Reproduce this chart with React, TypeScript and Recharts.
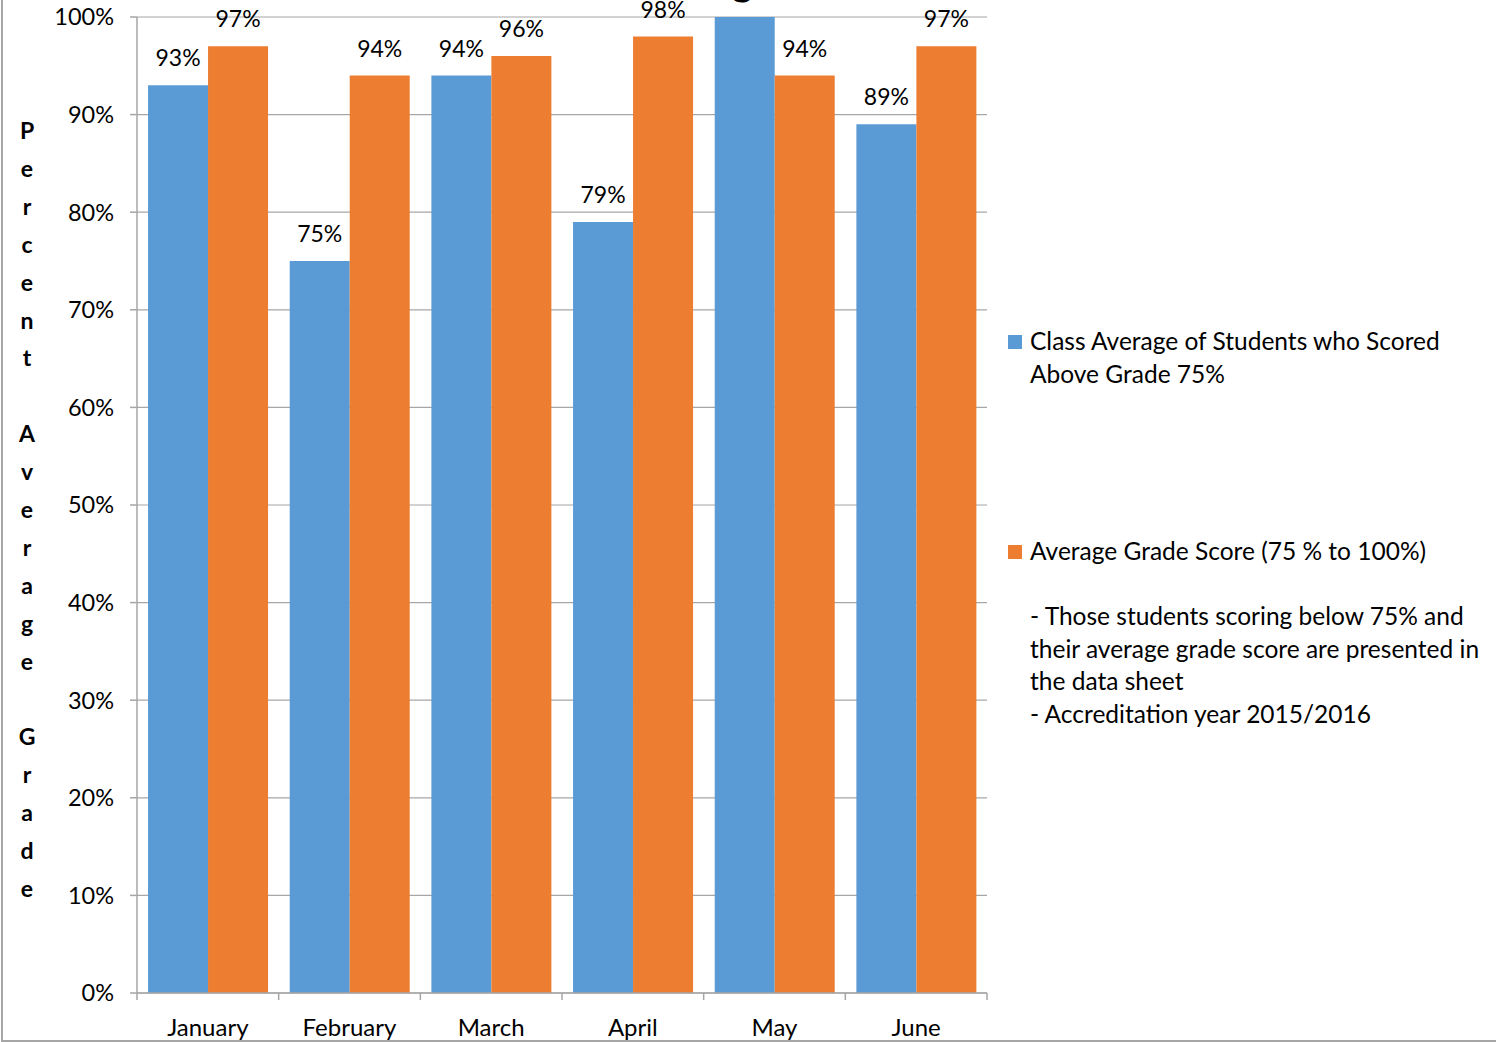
import React from "react";
import { BarChart, Bar, XAxis, YAxis, CartesianGrid, LabelList, Label } from "recharts";

const months = ["January", "February", "March", "April", "May", "June"];
const classAverage = [93, 75, 94, 79, 100, 89];
const gradeScore = [97, 94, 96, 98, 94, 97];
const yTicks = [0, 10, 20, 30, 40, 50, 60, 70, 80, 90, 100];
const seriesLegend1 = ["Class Average of Students who Scored", "Above Grade 75%"];
const seriesLegend2 = ["Average Grade Score (75 % to 100%)"];
const noteLines = [
  "- Those students scoring below 75% and",
  "their average grade score are presented in",
  "the data sheet",
  "- Accreditation year 2015/2016",
];
const yTitle = "Percent Average Grade";
const chartTitle = "Average Grade";

const BLUE = "#5B9BD5";
const ORANGE = "#ED7D31";
const GRAY = "#a6a6a6";
const FONT = "Lato, 'Open Sans', sans-serif";

const data = months.map((m, i) => ({ month: m, classAvg: classAverage[i], grade: gradeScore[i] }));

const XTick = (props: any) => {
  const { x, y, payload, index, visibleTicksCount } = props;
  const off = payload.offset || 0;
  return (
    <g>
      <line x1={x - off} x2={x - off} y1={y - 8} y2={y - 1} stroke={GRAY} strokeWidth={1.5} />
      {index === visibleTicksCount - 1 && (
        <line x1={x + off} x2={x + off} y1={y - 8} y2={y - 1} stroke={GRAY} strokeWidth={1.5} />
      )}
      <text x={x} y={y + 35} textAnchor="middle" fontFamily={FONT} fontSize={24} fill="#000">
        {payload.value}
      </text>
    </g>
  );
};

const YTitle = (props: any) => {
  const vb = props.viewBox || { x: 0, y: 0, width: 0, height: 0 };
  const chars = yTitle.split("");
  const step = 37.9;
  const cy = vb.y + vb.height / 2 + 4;
  const start = cy - ((chars.length - 1) * step) / 2;
  return (
    <text fontFamily={FONT} fontWeight="bold" fontSize={23} fill="#000" textAnchor="middle">
      {chars.map((c, i) => (
        <tspan key={i} x={27} y={start + i * step} dominantBaseline="central">
          {c === " " ? "\u00a0" : c}
        </tspan>
      ))}
    </text>
  );
};

const labelFmt = (v: any) => `${v}%`;

const legendItem = (color: string, lines: string[]) => (
  <div style={{ position: "relative", paddingLeft: 22 }}>
    <span style={{ position: "absolute", left: 0, top: 10, width: 14, height: 14, background: color }} />
    {lines.map((l, i) => (
      <div key={i}>{l}</div>
    ))}
  </div>
);

export default function App() {
  return (
    <div style={{ position: "fixed", left: 0, top: 0, width: 1496, height: 1042, overflow: "hidden", background: "#fff" }}>
      <BarChart
        width={1496}
        height={1042}
        data={data}
        margin={{ top: 17, right: 509, bottom: 0, left: 0 }}
        barCategoryGap="7.8%"
        barGap={0}
      >
        <text x={760} y={-5} textAnchor="middle" fontFamily={FONT} fontWeight="bold" fontSize={40} fill="#000">
          {chartTitle}
        </text>
        <CartesianGrid vertical={false} stroke={GRAY} strokeWidth={1.2} />
        <XAxis
          dataKey="month"
          height={49}
          stroke={GRAY}
          strokeWidth={1.5}
          tickLine={false}
          tick={<XTick />}
          interval={0}
        />
        <YAxis
          width={137}
          domain={[0, 100]}
          ticks={yTicks}
          interval={0}
          tickFormatter={labelFmt}
          stroke={GRAY}
          strokeWidth={1.5}
          tickSize={7}
          tickMargin={16}
          tick={{ fill: "#000", fontSize: 23.5, fontFamily: FONT }}
        >
          <Label content={<YTitle />} />
        </YAxis>
        <Bar dataKey="classAvg" fill={BLUE} isAnimationActive={false}>
          <LabelList dataKey="classAvg" position="top" offset={19} formatter={labelFmt} fill="#000" fontSize={23} fontFamily={FONT} />
        </Bar>
        <Bar dataKey="grade" fill={ORANGE} isAnimationActive={false}>
          <LabelList dataKey="grade" position="top" offset={19} formatter={labelFmt} fill="#000" fontSize={23} fontFamily={FONT} />
        </Bar>
      </BarChart>

      <div style={{ position: "absolute", left: 1008, top: 325, width: 488, fontFamily: FONT, fontSize: 24.5, lineHeight: "32.5px", color: "#000", whiteSpace: "nowrap" }}>
        {legendItem(BLUE, seriesLegend1)}
        <div style={{ height: 145 }} />
        {legendItem(ORANGE, [...seriesLegend2, "\u00a0", ...noteLines])}
      </div>

      <div style={{ position: "absolute", left: 1, top: -10, width: 1600, height: 1050, borderLeft: `2px solid ${GRAY}`, borderBottom: `2px solid ${GRAY}`, pointerEvents: "none" }} />
    </div>
  );
}
